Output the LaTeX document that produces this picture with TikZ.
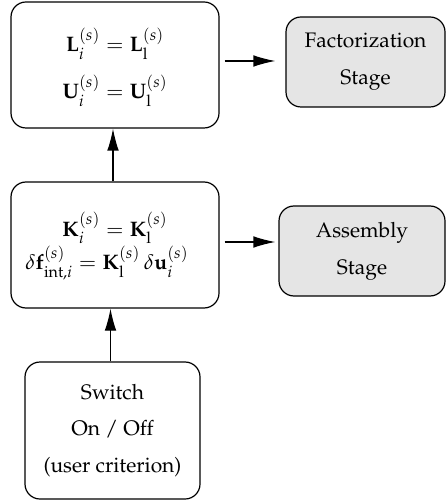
\documentclass[tikz,border=0pt]{standalone}
\usepackage[T1]{fontenc}
\usepackage{mathpazo}
\usetikzlibrary{arrows.meta}

\tikzset{
  stagebox/.style={draw, line width=0.6pt, rounded corners=7.5pt, align=center, inner sep=0pt},
  opbox/.style={stagebox, fill=gray!20},
  flow/.style={line width=0.6pt, -{Latex[length=11pt,width=5.8pt]}},
}

\begin{document}
\begin{tikzpicture}[x=0.5pt, y=-0.5pt]
  \useasboundingbox (0,0) rectangle (446,501);

  % equation boxes (the struts push the formulas slightly below centre)
  \node[stagebox, minimum width=104pt, minimum height=63pt,
        font=\fontsize{10.5}{23.5}\selectfont] (lu) at (115,65)
    {\rule{0pt}{14pt}$\mathbf{L}_i^{(s)} = \mathbf{L}_\mathrm{l}^{(s)}$\\
     $\mathbf{U}_i^{(s)} = \mathbf{U}_\mathrm{l}^{(s)}$};

  \node[stagebox, minimum width=104pt, minimum height=63pt,
        font=\fontsize{10.5}{15.5}\selectfont] (k) at (115,245)
    {\rule{0pt}{13pt}$\mathbf{K}_i^{(s)} = \mathbf{K}_\mathrm{l}^{(s)}$\\
     $\delta\mathbf{f}_{\mathrm{int},i}^{(s)} = \mathbf{K}_\mathrm{l}^{(s)}\,\delta\mathbf{u}_i^{(s)}$\hspace*{8pt}};

  \node[stagebox, minimum width=87.5pt, minimum height=68.5pt,
        font=\fontsize{10.5}{18.3}\selectfont] (sw) at (112.5,430.5)
    {Switch\\On / Off\\(user criterion)};

  % stage boxes
  \node[opbox, minimum width=79.5pt, minimum height=45pt,
        font=\fontsize{10.5}{18.5}\selectfont] (fac) at (365.5,62)
    {Factorization\\Stage};

  \node[opbox, minimum width=83pt, minimum height=45pt,
        font=\fontsize{10.5}{18.5}\selectfont] (asm) at (362,251)
    {Assembly\\Stage};

  % connectors
  \draw[flow] ([xshift=-1pt]sw.north) -- ([xshift=-1pt]sw.north |- k.south);
  \draw[flow] ([xshift=-1pt]k.north) -- ([xshift=-1pt]k.north |- lu.south);
  \draw[flow, shorten <=2.5pt, shorten >=5pt]
    ([yshift=2pt]lu.east) -- ([yshift=2pt]lu.east -| fac.west);
  \draw[flow, shorten <=2.5pt, shorten >=1.5pt]
    ([yshift=1.5pt]k.east) -- ([yshift=1.5pt]k.east -| asm.west);
\end{tikzpicture}
\end{document}
